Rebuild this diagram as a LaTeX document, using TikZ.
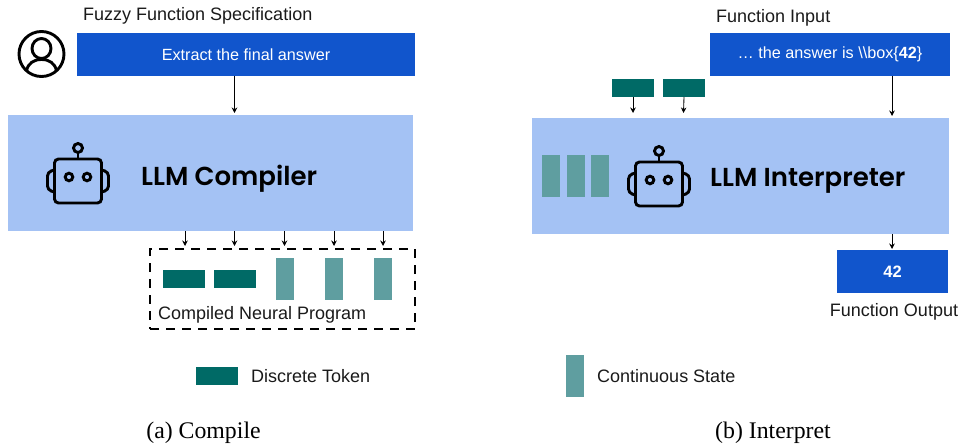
\documentclass[tikz,border=0pt]{standalone}
\usepackage{fontspec}
\setmainfont{Liberation Sans}
\newfontfamily\capfont{Liberation Serif}
\newfontfamily\titlefont[BoldFont={Poppins SemiBold}]{Poppins}
\usetikzlibrary{arrows.meta,calc}
\definecolor{bluedark}{HTML}{1155CC}
\definecolor{bluelight}{HTML}{A4C2F4}
\definecolor{tokcol}{HTML}{006A66}
\definecolor{statecol}{HTML}{5F9EA0}
\definecolor{txtcol}{HTML}{1A1A1A}
\tikzset{
  x=1pt,y=-1pt,
  bx/.style={anchor=north west,inner sep=0pt,outer sep=0pt,draw=none},
  inbox/.style={bx,fill=bluedark,text=white,font=\fontsize{16.2}{18}\selectfont},
  llmbox/.style={bx,fill=bluelight},
  tokbox/.style={bx,fill=tokcol,minimum width=42pt,minimum height=18pt},
  statebox/.style={bx,fill=statecol,minimum width=18pt,minimum height=42pt},
  lbl/.style={inner sep=0pt,text=txtcol,font=\fontsize{18}{20}\selectfont},
  captext/.style={inner sep=0pt,text=black,font=\capfont\fontsize{23.8}{26}\selectfont},
  llmtitle/.style={inner sep=0pt,text=black,font=\titlefont\bfseries\fontsize{26}{30}\selectfont},
  arr/.style={draw=black,line width=0.85pt,-{Stealth[length=5.5pt,width=5.5pt]}},
  robot/.pic={
    \draw[line width=2.9pt,rounded corners=4pt] (-23.5,-22) rectangle (23.5,22);
    \draw[line width=2.9pt] (0,-22) -- (0,-28.5);
    \draw[line width=2.9pt] (0,-33) circle[radius=4.5];
    \draw[line width=2.9pt] (-9,-4) circle[radius=3.8];
    \draw[line width=2.9pt] (9,-4) circle[radius=3.8];
    \draw[line width=2.9pt,rounded corners=4pt] (-23.5,-11) -- (-30.5,-9) -- (-30.5,9) -- (-23.5,11);
    \draw[line width=2.9pt,rounded corners=4pt] (23.5,-11) -- (30.5,-9) -- (30.5,9) -- (23.5,11);
  }
}
\begin{document}
\begin{tikzpicture}
\useasboundingbox (0,0) rectangle (961,444);
% compile
\node[lbl,anchor=west] (fuzzylabel) at (83,16) {Fuzzy Function Specification};
\node[inbox,minimum width=338pt,minimum height=43pt] (fuzzy) at (77,33) {Extract the final answer};
\node[llmbox,minimum width=405pt,minimum height=116pt] (compiler) at (8,115) {};
\node[llmtitle,anchor=west] (compilertitle) at (141,179) {LLM Compiler};
\pic at (78,181) {robot};
% user icon
\draw[line width=2.9pt] (41.5,54) circle[radius=22.5];
\draw[line width=2.9pt] (41.5,48.5) ellipse[x radius=9.5,y radius=10];
\draw[line width=2.9pt] (26.5,71) .. controls (28,63) and (34,59.5) .. (41.5,59.5) .. controls (49,59.5) and (55,63) .. (56.5,71);
\node[bx,minimum width=265pt,minimum height=80pt,draw=black,line width=2.6pt,dash pattern=on 9pt off 7pt] (prog) at (150,249) {};
\node[tokbox] (pa) at (163,270) {};
\node[tokbox] (pb) at (214,270) {};
\node[statebox] (pc) at (276,258) {};
\node[statebox] (pd) at (325,258) {};
\node[statebox] (pe) at (374,258) {};
\node[lbl,anchor=west] (proglabel) at (158,314.5) {Compiled Neural Program};
\coordinate (fz) at (234.5,113);
\draw[arr] (fz |- fuzzy.south) -- (fz);
\foreach \n/\xx in {a/185,b/234.5,c/284.5,d/334,e/383}{
  \coordinate (end\n) at (\xx,246);
  \draw[arr] (end\n |- compiler.south) -- (end\n);
}
% interpret
\node[lbl,anchor=west] (inputlabel) at (716,18) {Function Input};
\node[inbox,minimum width=240pt,minimum height=43pt] (input) at (710,33) {\dots\ the answer is \textbackslash\textbackslash box\{\textbf{42}\}};
\node[llmbox,minimum width=417pt,minimum height=116pt] (interp) at (532,118) {};
\node[tokbox] (ia) at (612,79) {};
\node[tokbox] (ib) at (663,79) {};
\node[statebox] (sa) at (542,155) {};
\node[statebox] (sb) at (567,155) {};
\node[statebox] (sc) at (591,155) {};
\pic at (659,184) {robot};
\node[llmtitle,anchor=west] (interptitle) at (710,181) {LLM Interpreter};
\node[inbox,minimum width=111pt,minimum height=43pt,font=\bfseries\fontsize{16.5}{18}\selectfont] (output) at (837,250) {42};
\node[lbl] (outlabel) at (894,311.5) {Function Output};
\coordinate (ea) at (633,113);
\coordinate (eb) at (683.5,113);
\coordinate (ec) at (892,116);
\coordinate (ed) at (892,249);
\draw[arr] (ia.south) -- (ea);
\draw[arr] (ib.south) -- (eb);
\draw[arr] (ec |- input.south) -- (ec);
\draw[arr] (ed |- interp.south) -- (ed);
% legend
\node[tokbox] (legtok) at (196,367) {};
\node[lbl,anchor=west] (legtoklabel) at (251,376) {Discrete Token};
\node[statebox] (legstate) at (566,355) {};
\node[lbl,anchor=west] (legstatelabel) at (597,376) {Continuous State};
% captions
\node[captext] (capa) at (203.5,432.5) {(a) Compile};
\node[captext] (capb) at (773,432.5) {(b) Interpret};
\end{tikzpicture}
\end{document}
